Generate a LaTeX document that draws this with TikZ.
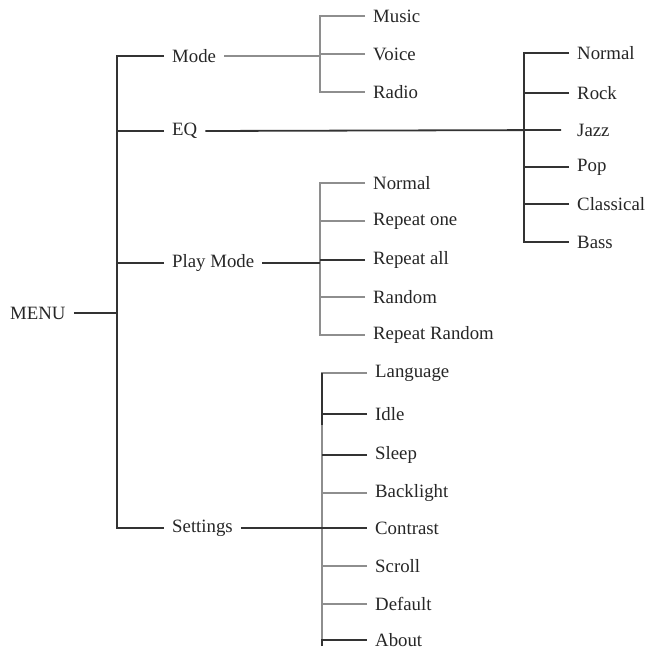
\documentclass[tikz,border=0pt]{standalone}
\usepackage{fontspec}
\setmainfont{Liberation Serif}
\definecolor{dk}{HTML}{333333}
\definecolor{lt}{HTML}{8E8E8E}
\begin{document}
\begin{tikzpicture}[x=1pt,y=-1pt,
  lbl/.style={anchor=west,inner ysep=0pt,inner xsep=8pt,font=\fontsize{18.8}{21}\selectfont,text=black!85},
  dline/.style={draw=dk,line width=1.8pt},
  gline/.style={draw=lt,line width=2pt}]
\useasboundingbox (0,0) rectangle (651,652);
% root
\node[lbl] (menu) at (2,313) {MENU};
\coordinate (mt) at (117,313);
% level 1
\node[lbl] (mode) at (164,56) {Mode};
\node[lbl] (eq) at (164,131) {EQ};
\node[lbl] (play) at (164,263) {Play Mode};
\node[lbl] (set) at (164,528) {Settings};
\draw[dline] (menu.east) -- (mt);
\draw[dline] (mode.west) -| (set.west -| mt) -- (set.west);
\draw[dline] (eq.west) -- (eq.west -| mt);
\draw[dline] (play.west) -- (play.west -| mt);
% Mode subtree
\coordinate (modej) at (320,56);
\node[lbl] (mus) at (365,16) {Music};
\node[lbl] (voi) at (365,54) {Voice};
\node[lbl] (rad) at (365,92) {Radio};
\draw[gline] (mode.east) -- (modej);
\draw[gline] (mus.west) -| (rad.west -| modej) -- (rad.west);
\draw[gline] (voi.west) -- (voi.west -| modej);
% EQ subtree
\coordinate (eqj) at (524,131);
\node[lbl] (enor) at (569,53) {Normal};
\node[lbl] (erock) at (569,93) {Rock};
\node[lbl] (ejazz) at (569,130) {Jazz};
\node[lbl] (epop) at (569,167) {Pop};
\node[lbl] (ecla) at (569,204) {Classical};
\node[lbl] (ebass) at (569,242) {Bass};
\draw[dline] (eq.east) -- ([xshift=-8pt]ejazz.west);
\draw[dline] (enor.west) -| (ebass.west -| eqj) -- (ebass.west);
\draw[dline] (erock.west) -- (erock.west -| eqj);
\draw[dline] (epop.west) -- (epop.west -| eqj);
\draw[dline] (ecla.west) -- (ecla.west -| eqj);
% Play Mode subtree
\coordinate (pj) at (320,263);
\node[lbl] (pnor) at (365,183) {Normal};
\node[lbl] (pone) at (365,221) {Repeat one};
\node[lbl] (pall) at (365,260) {Repeat all};
\node[lbl] (pran) at (365,297) {Random};
\node[lbl] (prr) at (365,335) {Repeat Random};
\draw[gline] (pnor.west) -| (prr.west -| pj) -- (prr.west);
\draw[gline] (pone.west) -- (pone.west -| pj);
\draw[gline] (pran.west) -- (pran.west -| pj);
\draw[dline] (play.east) -- (pj);
\draw[dline] (pall.west) -- (pall.west -| pj);
% Settings subtree
\coordinate (sj) at (322,528);
\node[lbl] (slang) at (367,373) {Language};
\node[lbl] (sidle) at (367,414) {Idle};
\node[lbl] (ssleep) at (367,455) {Sleep};
\node[lbl] (sback) at (367,493) {Backlight};
\node[lbl] (scon) at (367,528) {Contrast};
\node[lbl] (sscr) at (367,566) {Scroll};
\node[lbl] (sdef) at (367,604) {Default};
\node[lbl] (sabo) at (367,640) {About};
\draw[gline] (slang.west) -| (sabo.west -| sj);
\draw[gline] (sback.west) -- (sback.west -| sj);
\draw[gline] (sscr.west) -- (sscr.west -| sj);
\draw[gline] (sdef.west) -- (sdef.west -| sj);
\draw[dline] (slang.west -| sj) -- ([yshift=30pt]ssleep.west -| sj);
\draw[dline] (sidle.west) -- (sidle.west -| sj);
\draw[dline] (ssleep.west) -- (ssleep.west -| sj);
\draw[dline] (set.east) -- (scon.west);
\draw[dline] ([yshift=-6pt]sabo.west -| sj) -- (sabo.west -| sj) -- (sabo.west);
\end{tikzpicture}
\end{document}
